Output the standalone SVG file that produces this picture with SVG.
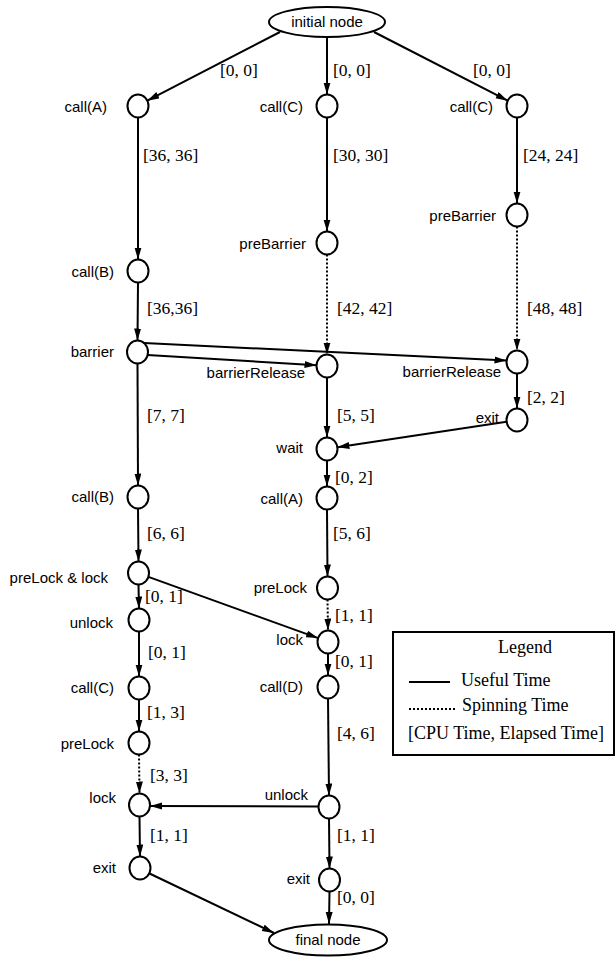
<svg xmlns="http://www.w3.org/2000/svg" width="616" height="957" viewBox="0 0 616 957">
<style>
.n{fill:#fff;stroke:#000;stroke-width:2}
.s{font-family:"Liberation Sans",Arial,sans-serif;font-size:15px;fill:#000}
.t{font-family:"Liberation Serif","Times New Roman",serif;font-size:17.5px;fill:#000}
.lg{font-family:"Liberation Serif","Times New Roman",serif;font-size:18px;fill:#000}
.e{stroke:#000;stroke-width:2;fill:none;marker-end:url(#ah)}
.d{stroke:#000;stroke-width:2;fill:none;stroke-dasharray:2 2;marker-end:url(#ah)}
</style>
<defs>
<marker id="ah" markerUnits="userSpaceOnUse" markerWidth="13" markerHeight="8" refX="12" refY="3.5" orient="auto">
<path d="M0,0 L12,3.5 L0,7 z" fill="#000"/>
</marker>
</defs>
<rect width="616" height="957" fill="#fff"/>
<g id="connectors">
<line class="e" x1="280" y1="32" x2="147.3" y2="100.7"/>
<line class="e" x1="327" y1="37" x2="327" y2="94.5"/>
<line class="e" x1="374" y1="32" x2="507.7" y2="100.7"/>
<line class="e" x1="138" y1="117.5" x2="138" y2="259.5"/>
<line class="e" x1="327" y1="117.5" x2="327" y2="231.5"/>
<line class="e" x1="517" y1="117.5" x2="517" y2="203.5"/>
<line class="e" x1="138" y1="282.5" x2="137.5" y2="340.5"/>
<line class="d" x1="327" y1="254.5" x2="327" y2="354.5"/>
<line class="d" x1="517" y1="226.5" x2="517" y2="350.5"/>
<line class="e" x1="147.5" y1="355" x2="316.5" y2="365.2"/>
<line class="e" x1="144" y1="343" x2="506.5" y2="360.5"/>
<line class="e" x1="137.5" y1="363.5" x2="138" y2="485.5"/>
<line class="e" x1="327" y1="377.5" x2="327" y2="437.5"/>
<line class="e" x1="517" y1="373.5" x2="517" y2="408.5"/>
<line class="e" x1="506.6" y1="421.7" x2="337.4" y2="447.3"/>
<line class="e" x1="327" y1="460.5" x2="327" y2="486.5"/>
<line class="e" x1="138" y1="508.5" x2="138.5" y2="561.5"/>
<line class="e" x1="327" y1="509.5" x2="327.5" y2="576.5"/>
<line class="e" x1="138.5" y1="584.5" x2="139" y2="608.5"/>
<line class="e" x1="148.4" y1="576.9" x2="318.1" y2="638.1"/>
<line class="d" x1="327.5" y1="599.5" x2="328" y2="630.5"/>
<line class="e" x1="139" y1="631.5" x2="139" y2="676.5"/>
<line class="e" x1="328" y1="653.5" x2="328" y2="675.5"/>
<line class="e" x1="139" y1="699.5" x2="139" y2="731.5"/>
<line class="d" x1="139" y1="754.5" x2="139.5" y2="793.5"/>
<line class="e" x1="328" y1="698.5" x2="329" y2="795.5"/>
<line class="e" x1="318.5" y1="806.5" x2="150" y2="806"/>
<line class="e" x1="139.5" y1="816.5" x2="140" y2="856.5"/>
<line class="e" x1="329" y1="818.5" x2="329.5" y2="868.5"/>
<line class="e" x1="149.5" y1="873.5" x2="274" y2="933"/>
<line class="e" x1="329.5" y1="891.5" x2="329" y2="924"/>
</g>
<g id="labels">
<text class="t" x="220" y="76">[0, 0]</text>
<text class="t" x="333" y="76">[0, 0]</text>
<text class="t" x="473" y="76">[0, 0]</text>
<text class="t" x="143" y="161">[36, 36]</text>
<text class="t" x="333" y="161">[30, 30]</text>
<text class="t" x="523" y="161">[24, 24]</text>
<text class="t" x="147" y="314">[36,36]</text>
<text class="t" x="337" y="314">[42, 42]</text>
<text class="t" x="527" y="314">[48, 48]</text>
<text class="t" x="147" y="421">[7, 7]</text>
<text class="t" x="337" y="421">[5, 5]</text>
<text class="t" x="527" y="403">[2, 2]</text>
<text class="t" x="335" y="483">[0, 2]</text>
<text class="t" x="147" y="539">[6, 6]</text>
<text class="t" x="333" y="539">[5, 6]</text>
<text class="t" x="145" y="602">[0, 1]</text>
<text class="t" x="335" y="621">[1, 1]</text>
<text class="t" x="148" y="658">[0, 1]</text>
<text class="t" x="335" y="667">[0, 1]</text>
<text class="t" x="147" y="718">[1, 3]</text>
<text class="t" x="337" y="739">[4, 6]</text>
<text class="t" x="150" y="781">[3, 3]</text>
<text class="t" x="150" y="841">[1, 1]</text>
<text class="t" x="337" y="841">[1, 1]</text>
<text class="t" x="337" y="903">[0, 0]</text>
</g>
<g id="initial"><ellipse class="n" cx="327" cy="22" rx="58" ry="15"/><text class="s" x="327" y="27" text-anchor="middle">initial node</text></g>
<g id="callA1"><ellipse class="n" cx="138" cy="106" rx="10.5" ry="11.5"/><text class="s" x="107" y="112" text-anchor="end">call(A)</text></g>
<g id="callC1"><ellipse class="n" cx="327" cy="106" rx="10.5" ry="11.5"/><text class="s" x="303" y="112" text-anchor="end">call(C)</text></g>
<g id="callC2"><ellipse class="n" cx="517" cy="106" rx="10.5" ry="11.5"/><text class="s" x="493" y="112" text-anchor="end">call(C)</text></g>
<g id="preBarrierR"><ellipse class="n" cx="517" cy="215" rx="10.5" ry="11.5"/><text class="s" x="496" y="221" text-anchor="end">preBarrier</text></g>
<g id="preBarrierM"><ellipse class="n" cx="327" cy="243" rx="10.5" ry="11.5"/><text class="s" x="306" y="249" text-anchor="end">preBarrier</text></g>
<g id="callB1"><ellipse class="n" cx="138" cy="271" rx="10.5" ry="11.5"/><text class="s" x="114" y="277" text-anchor="end">call(B)</text></g>
<g id="barrier"><ellipse class="n" cx="137.5" cy="352" rx="10.5" ry="11.5"/><text class="s" x="114" y="357" text-anchor="end">barrier</text></g>
<g id="barrierReleaseM"><ellipse class="n" cx="327" cy="366" rx="10.5" ry="11.5"/><text class="s" x="305" y="378" text-anchor="end">barrierRelease</text></g>
<g id="barrierReleaseR"><ellipse class="n" cx="517" cy="362" rx="10.5" ry="11.5"/><text class="s" x="501" y="377" text-anchor="end">barrierRelease</text></g>
<g id="exitR"><ellipse class="n" cx="517" cy="420" rx="10.5" ry="11.5"/><text class="s" x="499" y="423" text-anchor="end">exit</text></g>
<g id="wait"><ellipse class="n" cx="327" cy="449" rx="10.5" ry="11.5"/><text class="s" x="303" y="453" text-anchor="end">wait</text></g>
<g id="callB2"><ellipse class="n" cx="138" cy="497" rx="10.5" ry="11.5"/><text class="s" x="114" y="502" text-anchor="end">call(B)</text></g>
<g id="callA2"><ellipse class="n" cx="327" cy="498" rx="10.5" ry="11.5"/><text class="s" x="303" y="504" text-anchor="end">call(A)</text></g>
<g id="preLockLock"><ellipse class="n" cx="138.5" cy="573" rx="10.5" ry="11.5"/><text class="s" x="108" y="583" text-anchor="end">preLock &amp; lock</text></g>
<g id="preLockM"><ellipse class="n" cx="327.5" cy="588" rx="10.5" ry="11.5"/><text class="s" x="307" y="593" text-anchor="end">preLock</text></g>
<g id="unlockL"><ellipse class="n" cx="139" cy="620" rx="10.5" ry="11.5"/><text class="s" x="113" y="628" text-anchor="end">unlock</text></g>
<g id="lockM"><ellipse class="n" cx="328" cy="642" rx="10.5" ry="11.5"/><text class="s" x="303" y="645" text-anchor="end">lock</text></g>
<g id="callC3"><ellipse class="n" cx="139" cy="688" rx="10.5" ry="11.5"/><text class="s" x="114" y="693" text-anchor="end">call(C)</text></g>
<g id="callD"><ellipse class="n" cx="328" cy="687" rx="10.5" ry="11.5"/><text class="s" x="303" y="692" text-anchor="end">call(D)</text></g>
<g id="preLockL"><ellipse class="n" cx="139" cy="743" rx="10.5" ry="11.5"/><text class="s" x="114" y="749" text-anchor="end">preLock</text></g>
<g id="lockL"><ellipse class="n" cx="139.5" cy="805" rx="10.5" ry="11.5"/><text class="s" x="116" y="803" text-anchor="end">lock</text></g>
<g id="unlockM"><ellipse class="n" cx="329" cy="807" rx="10.5" ry="11.5"/><text class="s" x="308" y="800" text-anchor="end">unlock</text></g>
<g id="exitL"><ellipse class="n" cx="140" cy="868" rx="10.5" ry="11.5"/><text class="s" x="116" y="873" text-anchor="end">exit</text></g>
<g id="exitM"><ellipse class="n" cx="329.5" cy="880" rx="10.5" ry="11.5"/><text class="s" x="310" y="884" text-anchor="end">exit</text></g>
<g id="final"><ellipse class="n" cx="328" cy="940" rx="59" ry="15.5"/><text class="s" x="328" y="945" text-anchor="middle">final node</text></g>
<g id="legend">
<rect x="393" y="632" width="221" height="123" fill="#fff" stroke="#000" stroke-width="2"/>
<text class="lg" x="525" y="653" text-anchor="middle">Legend</text>
<line x1="409" y1="682" x2="450" y2="682" stroke="#000" stroke-width="2"/>
<text class="lg" x="461" y="686">Useful Time</text>
<line x1="409" y1="709" x2="455" y2="709" stroke="#000" stroke-width="2" stroke-dasharray="2 2"/>
<text class="lg" x="462" y="711">Spinning Time</text>
<text class="lg" x="408" y="739">[CPU Time, Elapsed Time]</text>
</g>
</svg>
